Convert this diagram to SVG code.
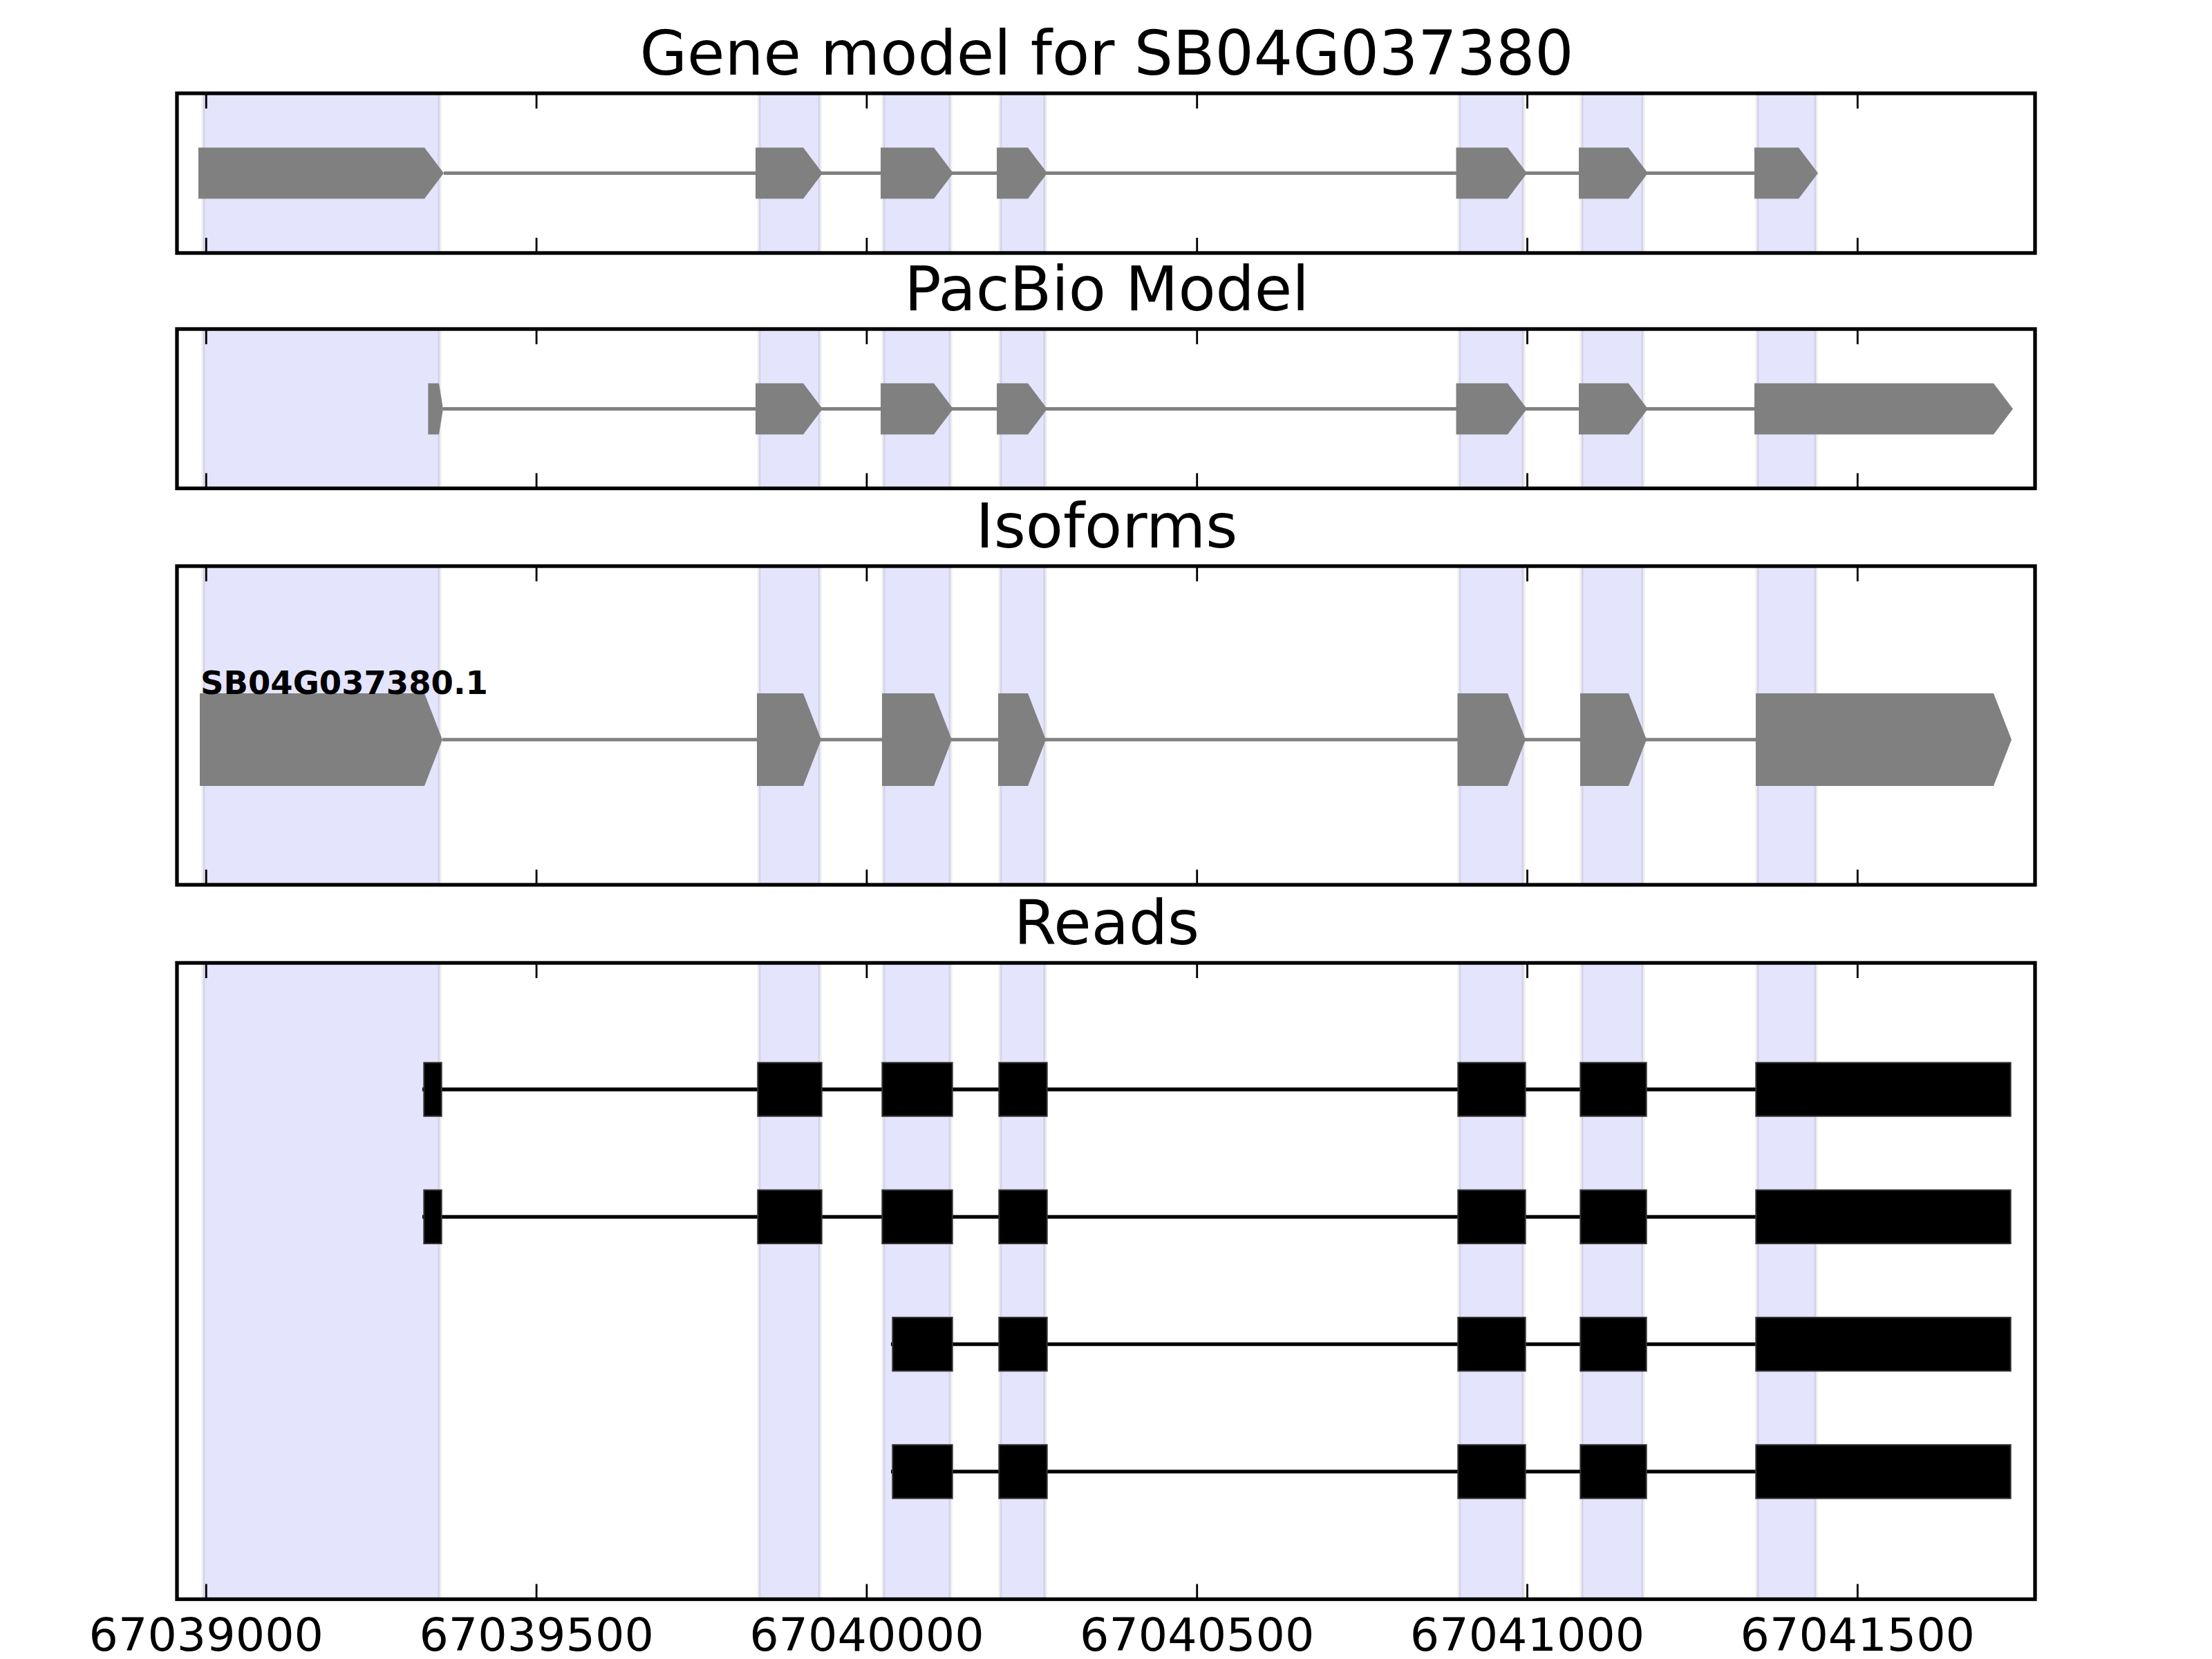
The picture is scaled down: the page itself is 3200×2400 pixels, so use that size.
<svg xmlns="http://www.w3.org/2000/svg" width="3200" height="2400" viewBox="0 0 3200 2400">
<style>
.frame{fill:none;stroke:#000;stroke-width:5.3}
.band{fill:#E4E4FC;stroke:#000;stroke-opacity:0.07;stroke-width:5}
.tick{fill:none;stroke:#000;stroke-width:2.8}
.intron{fill:none;stroke:#808080;stroke-width:5}
.exon{fill:#808080}
.read{fill:#000;stroke:#333;stroke-width:2}
.readline{fill:none;stroke:#000;stroke-width:5.3}
.title{font-family:'DejaVu Sans','Liberation Sans',sans-serif;font-size:88.5px;text-anchor:middle;fill:#000}
.ticklabel{font-family:'DejaVu Sans','Liberation Sans',sans-serif;font-size:66.7px;text-anchor:middle;fill:#000}
.iso{font-family:'DejaVu Sans','Liberation Sans',sans-serif;font-size:46.5px;font-weight:bold;fill:#000}
</style>
<rect x="0" y="0" width="3200" height="2400" fill="#fff"/>

<!-- Panel 1: Gene model -->
<g id="panel-gene-model">
  <text class="title" x="1601" y="108">Gene model for SB04G037380</text>
  <g id="bands-p1">
    <rect class="band" x="294" y="135" width="342" height="231"/>
    <rect class="band" x="1098" y="135" width="88" height="231"/>
    <rect class="band" x="1278" y="135" width="97" height="231"/>
    <rect class="band" x="1447" y="135" width="65" height="231"/>
    <rect class="band" x="2111" y="135" width="93" height="231"/>
    <rect class="band" x="2288" y="135" width="89" height="231"/>
    <rect class="band" x="2542" y="135" width="85" height="231"/>
  </g>
  <g id="connectors-p1">
    <path class="intron" d="M642 250.5 H2538"/>
  </g>
  <g id="gene-model-SB04G037380">
    <polygon class="exon" points="287,213.5 614,213.5 642,250.5 614,287.5 287,287.5"/>
    <polygon class="exon" points="1093,213.5 1162,213.5 1190,250.5 1162,287.5 1093,287.5"/>
    <polygon class="exon" points="1274,213.5 1351,213.5 1379,250.5 1351,287.5 1274,287.5"/>
    <polygon class="exon" points="1442,213.5 1487,213.5 1515,250.5 1487,287.5 1442,287.5"/>
    <polygon class="exon" points="2106.5,213.5 2181,213.5 2209,250.5 2181,287.5 2106.5,287.5"/>
    <polygon class="exon" points="2284,213.5 2356,213.5 2384,250.5 2356,287.5 2284,287.5"/>
    <polygon class="exon" points="2538,213.5 2602,213.5 2630,250.5 2602,287.5 2538,287.5"/>
  </g>
  <rect class="frame" x="256" y="135" width="2688" height="231"/>
  <path class="tick" d="M298.3 135v22M776.1 135v22M1253.9 135v22M1731.7 135v22M2209.5 135v22M2687.3 135v22M298.3 366v-22M776.1 366v-22M1253.9 366v-22M1731.7 366v-22M2209.5 366v-22M2687.3 366v-22"/>
</g>

<!-- Panel 2: PacBio Model -->
<g id="panel-pacbio-model">
  <text class="title" x="1601" y="449">PacBio Model</text>
  <g id="bands-p2">
    <rect class="band" x="294" y="476" width="342" height="230.5"/>
    <rect class="band" x="1098" y="476" width="88" height="230.5"/>
    <rect class="band" x="1278" y="476" width="97" height="230.5"/>
    <rect class="band" x="1447" y="476" width="65" height="230.5"/>
    <rect class="band" x="2111" y="476" width="93" height="230.5"/>
    <rect class="band" x="2288" y="476" width="89" height="230.5"/>
    <rect class="band" x="2542" y="476" width="85" height="230.5"/>
  </g>
  <g id="connectors-p2">
    <path class="intron" d="M641 591.5 H2538"/>
  </g>
  <g id="pacbio-model">
    <polygon class="exon" points="619.3,554.5 635,554.5 641,591.5 635,628.5 619.3,628.5"/>
    <polygon class="exon" points="1093,554.5 1162,554.5 1190,591.5 1162,628.5 1093,628.5"/>
    <polygon class="exon" points="1274,554.5 1351,554.5 1379,591.5 1351,628.5 1274,628.5"/>
    <polygon class="exon" points="1442,554.5 1487,554.5 1515,591.5 1487,628.5 1442,628.5"/>
    <polygon class="exon" points="2106.5,554.5 2181,554.5 2209,591.5 2181,628.5 2106.5,628.5"/>
    <polygon class="exon" points="2284,554.5 2356,554.5 2384,591.5 2356,628.5 2284,628.5"/>
    <polygon class="exon" points="2538,554.5 2884,554.5 2912,591.5 2884,628.5 2538,628.5"/>
  </g>
  <rect class="frame" x="256" y="476" width="2688" height="230.5"/>
  <path class="tick" d="M298.3 476v22M776.1 476v22M1253.9 476v22M1731.7 476v22M2209.5 476v22M2687.3 476v22M298.3 706.5v-22M776.1 706.5v-22M1253.9 706.5v-22M1731.7 706.5v-22M2209.5 706.5v-22M2687.3 706.5v-22"/>
</g>

<!-- Panel 3: Isoforms -->
<g id="panel-isoforms">
  <text class="title" x="1601" y="792">Isoforms</text>
  <g id="bands-p3">
    <rect class="band" x="294" y="819" width="342" height="461"/>
    <rect class="band" x="1098" y="819" width="88" height="461"/>
    <rect class="band" x="1278" y="819" width="97" height="461"/>
    <rect class="band" x="1447" y="819" width="65" height="461"/>
    <rect class="band" x="2111" y="819" width="93" height="461"/>
    <rect class="band" x="2288" y="819" width="89" height="461"/>
    <rect class="band" x="2542" y="819" width="85" height="461"/>
  </g>
  <g id="connectors-p3">
    <path class="intron" d="M640 1070 H2540"/>
  </g>
  <g id="isoform-SB04G037380.1">
    <polygon class="exon" points="289,1003 614,1003 640,1070 614,1137 289,1137"/>
    <polygon class="exon" points="1095,1003 1162,1003 1188,1070 1162,1137 1095,1137"/>
    <polygon class="exon" points="1276,1003 1351,1003 1377,1070 1351,1137 1276,1137"/>
    <polygon class="exon" points="1444,1003 1487,1003 1513,1070 1487,1137 1444,1137"/>
    <polygon class="exon" points="2108.5,1003 2181,1003 2207,1070 2181,1137 2108.5,1137"/>
    <polygon class="exon" points="2286,1003 2356,1003 2382,1070 2356,1137 2286,1137"/>
    <polygon class="exon" points="2540,1003 2884,1003 2910,1070 2884,1137 2540,1137"/>
    <text class="iso" x="290" y="1004">SB04G037380.1</text>
  </g>
  <rect class="frame" x="256" y="819" width="2688" height="461"/>
  <path class="tick" d="M298.3 819v22M776.1 819v22M1253.9 819v22M1731.7 819v22M2209.5 819v22M2687.3 819v22M298.3 1280v-22M776.1 1280v-22M1253.9 1280v-22M1731.7 1280v-22M2209.5 1280v-22M2687.3 1280v-22"/>
</g>

<!-- Panel 4: Reads -->
<g id="panel-reads">
  <text class="title" x="1601" y="1366">Reads</text>
  <g id="bands-p4">
    <rect class="band" x="294" y="1393" width="342" height="920.5"/>
    <rect class="band" x="1098" y="1393" width="88" height="920.5"/>
    <rect class="band" x="1278" y="1393" width="97" height="920.5"/>
    <rect class="band" x="1447" y="1393" width="65" height="920.5"/>
    <rect class="band" x="2111" y="1393" width="93" height="920.5"/>
    <rect class="band" x="2288" y="1393" width="89" height="920.5"/>
    <rect class="band" x="2542" y="1393" width="85" height="920.5"/>
  </g>
  <g id="connectors-reads">
    <path class="readline" d="M611 1576 H2908"/>
    <path class="readline" d="M611 1760.3 H2908"/>
    <path class="readline" d="M1289 1944.6 H2908"/>
    <path class="readline" d="M1289 2128.9 H2908"/>
  </g>
  <g id="read-1">
    <rect class="read" x="613.3" y="1537.3" width="25.4" height="77.4"/>
    <rect class="read" x="1096.3" y="1537.3" width="92.4" height="77.4"/>
    <rect class="read" x="1276.3" y="1537.3" width="101.4" height="77.4"/>
    <rect class="read" x="1445.3" y="1537.3" width="69.4" height="77.4"/>
    <rect class="read" x="2109.3" y="1537.3" width="97.4" height="77.4"/>
    <rect class="read" x="2286.3" y="1537.3" width="95.4" height="77.4"/>
    <rect class="read" x="2540.3" y="1537.3" width="368.4" height="77.4"/>
  </g>
  <g id="read-2">
    <rect class="read" x="613.3" y="1721.6" width="25.4" height="77.4"/>
    <rect class="read" x="1096.3" y="1721.6" width="92.4" height="77.4"/>
    <rect class="read" x="1276.3" y="1721.6" width="101.4" height="77.4"/>
    <rect class="read" x="1445.3" y="1721.6" width="69.4" height="77.4"/>
    <rect class="read" x="2109.3" y="1721.6" width="97.4" height="77.4"/>
    <rect class="read" x="2286.3" y="1721.6" width="95.4" height="77.4"/>
    <rect class="read" x="2540.3" y="1721.6" width="368.4" height="77.4"/>
  </g>
  <g id="read-3">
    <rect class="read" x="1291.3" y="1905.9" width="86.4" height="77.4"/>
    <rect class="read" x="1445.3" y="1905.9" width="69.4" height="77.4"/>
    <rect class="read" x="2109.3" y="1905.9" width="97.4" height="77.4"/>
    <rect class="read" x="2286.3" y="1905.9" width="95.4" height="77.4"/>
    <rect class="read" x="2540.3" y="1905.9" width="368.4" height="77.4"/>
  </g>
  <g id="read-4">
    <rect class="read" x="1291.3" y="2090.2" width="86.4" height="77.4"/>
    <rect class="read" x="1445.3" y="2090.2" width="69.4" height="77.4"/>
    <rect class="read" x="2109.3" y="2090.2" width="97.4" height="77.4"/>
    <rect class="read" x="2286.3" y="2090.2" width="95.4" height="77.4"/>
    <rect class="read" x="2540.3" y="2090.2" width="368.4" height="77.4"/>
  </g>
  <rect class="frame" x="256" y="1393" width="2688" height="920.5"/>
  <path class="tick" d="M298.3 1393v22M776.1 1393v22M1253.9 1393v22M1731.7 1393v22M2209.5 1393v22M2687.3 1393v22M298.3 2313.5v-22M776.1 2313.5v-22M1253.9 2313.5v-22M1731.7 2313.5v-22M2209.5 2313.5v-22M2687.3 2313.5v-22"/>
</g>

<g id="x-axis-labels">
  <text class="ticklabel" x="298.3" y="2388">67039000</text>
  <text class="ticklabel" x="776.1" y="2388">67039500</text>
  <text class="ticklabel" x="1253.9" y="2388">67040000</text>
  <text class="ticklabel" x="1731.7" y="2388">67040500</text>
  <text class="ticklabel" x="2209.5" y="2388">67041000</text>
  <text class="ticklabel" x="2687.3" y="2388">67041500</text>
</g>
</svg>
